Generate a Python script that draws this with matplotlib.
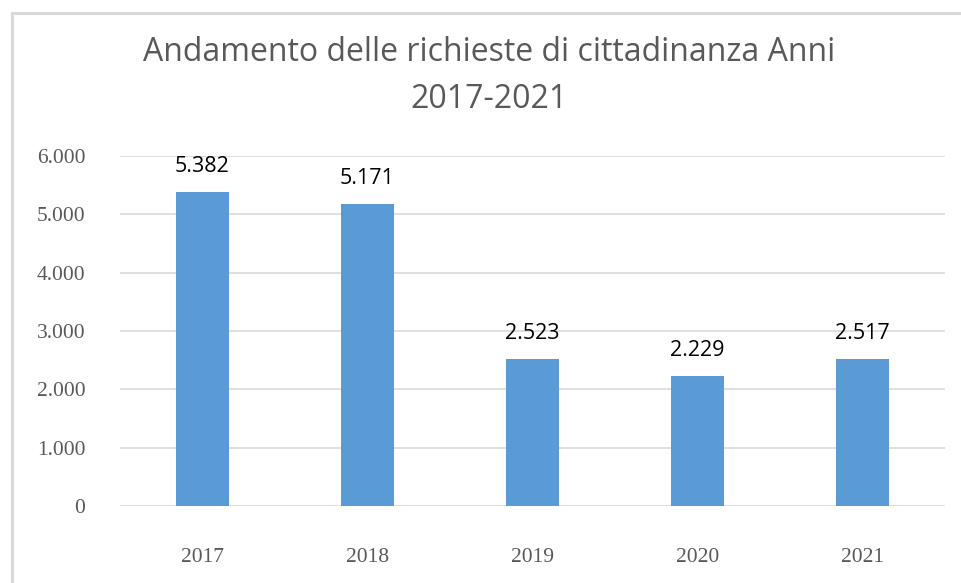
import matplotlib.pyplot as plt
from matplotlib.patches import Rectangle

# dati: richieste di cittadinanza per anno
anni = ["2017", "2018", "2019", "2020", "2021"]
richieste = [5382, 5171, 2523, 2229, 2517]
y_ticks = [0, 1000, 2000, 3000, 4000, 5000, 6000]


def fmt_it(v):
    return f"{v:,}".replace(",", ".")


fig = plt.figure(figsize=(9.62, 5.83), dpi=100)
ax = fig.add_axes([120 / 962, 77 / 583, 825 / 962, 350 / 583])

x = range(len(anni))
ax.bar(x, richieste, width=0.32, color="#5b9bd5", zorder=2)

ax.set_ylim(0, 6000)
ax.set_xlim(-0.5, len(anni) - 0.5)
ax.set_yticks(y_ticks)
ax.set_yticklabels(["0" if v == 0 else fmt_it(v) for v in y_ticks],
                   family="Liberation Serif", fontsize=15.5, color="#595959")
ax.set_xticks(list(x))
ax.set_xticklabels(anni, family="Liberation Serif", fontsize=15.5, color="#595959")
ax.tick_params(axis="both", length=0)
ax.tick_params(axis="y", pad=25)
ax.tick_params(axis="x", pad=30)
ax.grid(axis="y", color="#d9d9d9", linewidth=1.2, zorder=0)
for s in ax.spines.values():
    s.set_visible(False)

for i, v in enumerate(richieste):
    ax.annotate(fmt_it(v), (i, v), xytext=(0, 11), textcoords="offset points",
                ha="center", va="bottom", fontsize=15.5, color="#000000",
                family="Open Sans")

fig.text(489 / 962, 1 - 76 / 583, "Andamento delle richieste di cittadinanza Anni\n2017-2021",
         ha="center", va="center", fontsize=23, color="#595959",
         family="Open Sans", linespacing=1.55)

# cornice grigia (bordo destro e inferiore fuori dall'immagine)
fig.patches.append(Rectangle((11.5 / 962, -10 / 583), 1000 / 962, (583 - 12.5 + 10) / 583,
                             transform=fig.transFigure, fill=False,
                             edgecolor="#d9d9d9", linewidth=2.2))

fig.savefig("out.png", dpi=100)
